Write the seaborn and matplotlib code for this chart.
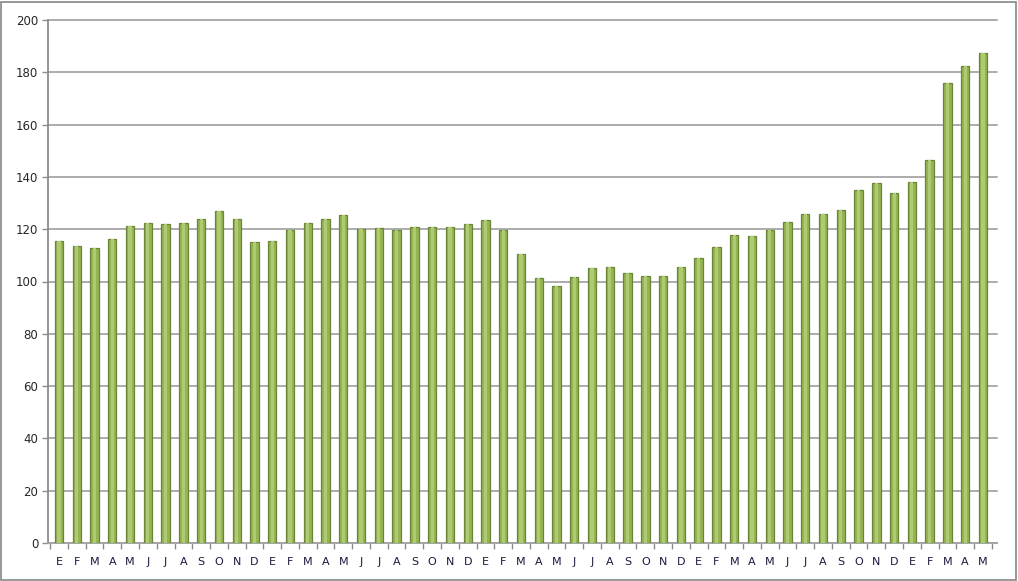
import numpy as np
import pandas as pd
import matplotlib
matplotlib.use('Agg')
import matplotlib.pyplot as plt
import seaborn as sns
from matplotlib.patches import Rectangle

# monthly index, Jan of year 1 .. May of year 5
months = ['E', 'F', 'M', 'A', 'M', 'J', 'J', 'A', 'S', 'O', 'N', 'D'] * 4 + ['E', 'F', 'M', 'A', 'M']
values = [115.6, 113.5, 113.0, 116.2, 121.4, 122.5, 122.0, 122.4, 124.0, 127.0, 123.8, 115.2,
          115.3, 119.8, 122.2, 123.9, 125.3, 120.1, 120.5, 119.8, 121.0, 120.7, 121.0, 122.0,
          123.5, 119.7, 110.7, 101.2, 98.4, 101.7, 105.2, 105.4, 103.4, 102.1, 102.2, 105.7,
          108.9, 113.3, 117.8, 117.5, 119.8, 122.8, 125.7, 125.7, 127.3, 134.8, 137.5, 134.0,
          138.0, 146.4, 176.0, 182.5, 187.3]

df = pd.DataFrame({'pos': np.arange(len(values)), 'val': values})

plt.rcParams.update(plt.rcParamsDefault)
sns.set_style('white')
plt.rcParams['font.family'] = ['DejaVu Sans']

fig = plt.figure(figsize=(10.18, 5.81), dpi=100)
ax = fig.add_axes([48 / 1018, 38 / 581, 949 / 1018, 523 / 581])

sns.barplot(data=df, x='pos', y='val', color='#94B552', width=0.47,
            edgecolor='#6A853A', linewidth=0.9, saturation=1, ax=ax, zorder=3)
# lighter middle strip to imitate the cylinder shading
sns.barplot(data=df, x='pos', y='val', color='#AECB74', width=0.18,
            linewidth=0, saturation=1, ax=ax, zorder=4)

ax.set_ylim(0, 200)
ax.set_xlim(-0.62, len(values) - 1 + 0.79)
ax.set_yticks(np.arange(0, 201, 20))
ax.yaxis.grid(True, color='#A6A6A6', linewidth=1.3, zorder=0)
ax.set_axisbelow(True)
for gl in ax.get_ygridlines():
    gl.set_clip_on(False)

ax.set_xticks(np.arange(len(values)))
ax.set_xticklabels(months, fontsize=8, color='#1A1A40')
ax.set_xticks(np.arange(len(values) + 1) - 0.5, minor=True)
ax.tick_params(axis='x', which='major', bottom=False, length=0, pad=10)
ax.tick_params(axis='x', which='minor', bottom=True, length=4, color='#8C8C8C', width=1)
ax.tick_params(axis='y', left=True, length=4, color='#8C8C8C', width=1, labelsize=8.5, pad=3)
ax.set_xlabel('')
ax.set_ylabel('')

for s in ['top', 'right']:
    ax.spines[s].set_visible(False)
ax.spines['left'].set_color('#8C8C8C')
ax.spines['left'].set_linewidth(1.3)
ax.spines['bottom'].set_color('#A6A6A6')
ax.spines['bottom'].set_linewidth(1.3)

fig.patches.append(Rectangle((1 / 1018, 1 / 581), 1015 / 1018, 578 / 581,
                             transform=fig.transFigure, fill=False,
                             edgecolor='#868686', linewidth=1.2))

fig.savefig('out.png', dpi=100)
